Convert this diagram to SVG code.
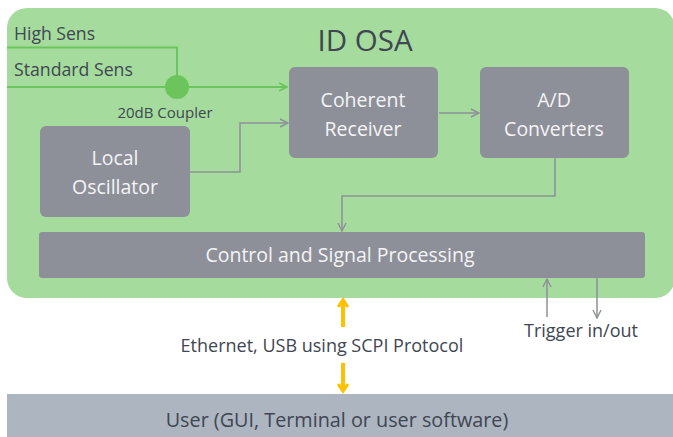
<svg xmlns="http://www.w3.org/2000/svg" width="673" height="437" viewBox="0 0 673 437">
<style>
text{font-family:"Open Sans","Noto Sans","Liberation Sans",sans-serif}
.box{fill:#8e9099}
.bt{fill:#f4f4f6;font-size:19.5px;text-anchor:middle}
.dt{fill:#404652}
.gl{fill:none;stroke:#6cc55c;stroke-width:2}
.cl{fill:none;stroke:#8e9099;stroke-width:1.5}
.ol{fill:none;stroke:#ffc000;stroke-width:4}
</style>
<defs>
<marker id="ag" viewBox="0 0 10 10" refX="9" refY="5" markerWidth="10" markerHeight="10" markerUnits="userSpaceOnUse" orient="auto"><path d="M1 1L9 5L1 9" fill="none" stroke="#6cc55c" stroke-width="1.8"/></marker>
<marker id="ac" viewBox="0 0 10 10" refX="9" refY="5" markerWidth="10" markerHeight="10" markerUnits="userSpaceOnUse" orient="auto"><path d="M1 1L9 5L1 9" fill="none" stroke="#8e9099" stroke-width="1.4"/></marker>
<marker id="ao" viewBox="0 0 10 10" refX="6" refY="5" markerWidth="12" markerHeight="12" markerUnits="userSpaceOnUse" orient="auto"><path d="M1 1L7 5L1 9" fill="none" stroke="#ffc000" stroke-width="2.6"/></marker>
</defs>
<rect x="7" y="8" width="668" height="290" rx="20" fill="#a5dc9d"/>
<text x="365" y="51" class="dt" font-size="29.5" text-anchor="middle">ID OSA</text>
<g id="user"><rect x="7" y="394" width="666" height="43" fill="#adb5c1"/><text x="337" y="427" class="dt" font-size="19.8" text-anchor="middle">User (GUI, Terminal or user software)</text></g>
<g id="connectors">
<polyline class="gl" points="7,47.5 177,47.5 177,80"/>
<line class="gl" x1="7" y1="87" x2="287" y2="87" marker-end="url(#ag)"/>
<polyline class="cl" points="190,172 240,172 240,123 288,123" marker-end="url(#ac)"/>
<line class="cl" x1="439" y1="113" x2="479" y2="113" marker-end="url(#ac)"/>
<polyline class="cl" points="555,158 555,196 342,196 342,231" marker-end="url(#ac)"/>
<line class="cl" x1="547" y1="317" x2="547" y2="279" marker-end="url(#ac)"/>
<line class="cl" x1="597" y1="278" x2="597" y2="318" marker-end="url(#ac)"/>
<line class="ol" x1="343" y1="327" x2="343" y2="301" marker-end="url(#ao)"/>
<line class="ol" x1="343" y1="363" x2="343" y2="390" marker-end="url(#ao)"/>
</g>
<g id="coupler"><circle cx="177" cy="87" r="12" fill="#6cc55c"/><text x="165" y="118" class="dt" font-size="15" text-anchor="middle">20dB Coupler</text></g>
<text x="14" y="40" class="dt" font-size="17.6">High Sens</text>
<text x="14" y="76" class="dt" font-size="17.7">Standard Sens</text>
<g id="coherent"><rect class="box" x="289" y="67" width="149" height="91" rx="6"/><text class="bt" x="363" y="107">Coherent</text><text class="bt" x="363" y="136">Receiver</text></g>
<g id="adc"><rect class="box" x="480" y="67" width="149" height="91" rx="6"/><text class="bt" x="554" y="107">A/D</text><text class="bt" x="554" y="136">Converters</text></g>
<g id="lo"><rect class="box" x="40" y="126" width="150" height="91" rx="6"/><text class="bt" x="115" y="165">Local</text><text class="bt" x="115" y="194">Oscillator</text></g>
<g id="control"><rect class="box" x="39" y="232" width="606" height="46" rx="3"/><text class="bt" x="340" y="262">Control and Signal Processing</text></g>
<text x="581" y="337" class="dt" font-size="18" text-anchor="middle">Trigger in/out</text>
<text x="322" y="352" class="dt" font-size="18" text-anchor="middle">Ethernet, USB using SCPI Protocol</text>
</svg>
